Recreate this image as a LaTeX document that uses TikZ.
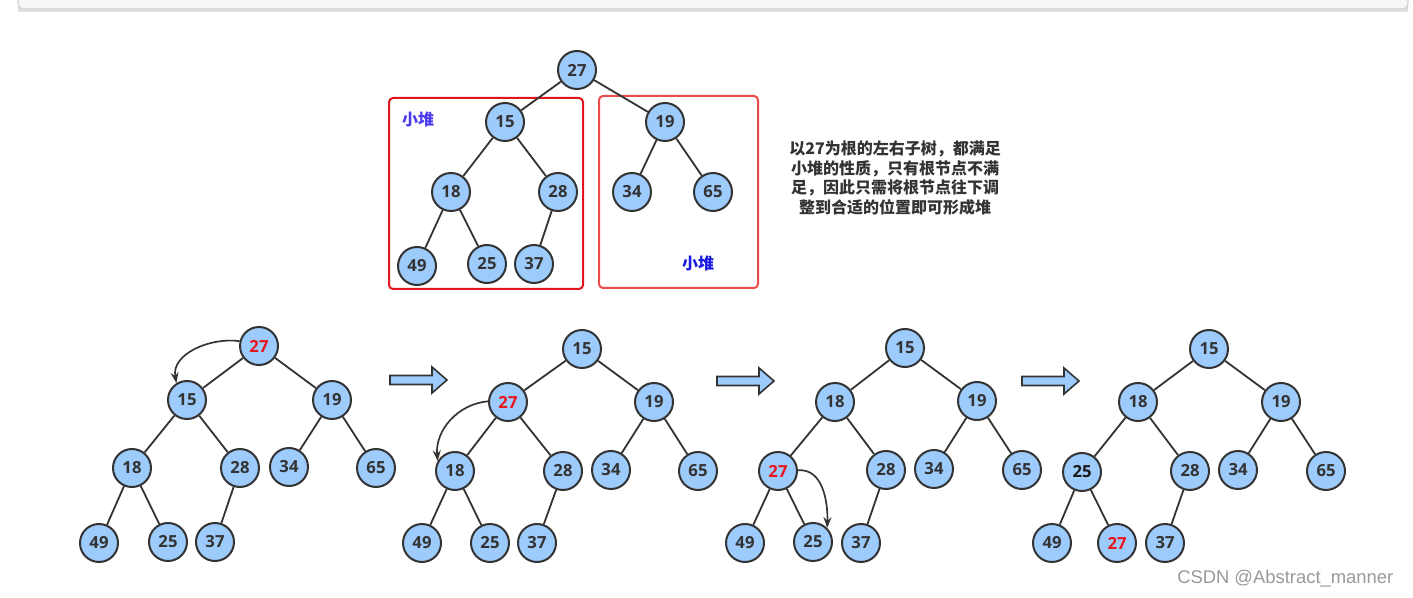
\documentclass[tikz,border=0pt]{standalone}
\usepackage{fontspec}
\setmainfont{Open Sans}
\setsansfont{Liberation Sans}
\newfontfamily\cjk{Noto Sans CJK SC}
\usetikzlibrary{arrows.meta}
\definecolor{nodefill}{HTML}{9DCBFB}
\definecolor{edgec}{HTML}{333333}
\definecolor{redtxt}{HTML}{E8141E}
\definecolor{boxred}{HTML}{E0161E}
\definecolor{boxredb}{HTML}{EB4B4B}
\definecolor{heapblue}{HTML}{4B3BF0}
\definecolor{heapblueb}{HTML}{1A1AE0}
\begin{document}
\begin{tikzpicture}[x=0.75pt,y=-0.75pt,
  hn/.style={circle,draw=edgec,line width=1.5pt,fill=nodefill,minimum size=28.5pt,inner sep=0pt,
    font=\fontsize{12.5pt}{14pt}\selectfont\bfseries,text=edgec},
  hot/.style={hn,text=redtxt},
  tl/.style={draw=edgec,line width=1.35pt},
  swaparrow/.style={draw=edgec,line width=1.25pt,-{Stealth[length=8pt,width=6pt]}},
  blockarrow/.style={draw=edgec,line width=1.2pt,fill=nodefill},
  heaplabel/.style={font=\cjk\fontsize{12pt}{14pt}\selectfont\bfseries}
]
\useasboundingbox (0,0) rectangle (1413,598);
% top gray frame
\fill[black!12] (18,-10) rectangle (1408,12);
\filldraw[fill=black!3,draw=black!18,line width=0.8pt,rounded corners=4pt] (18,-10) rectangle (1408,9);

% ===== top tree =====
\draw[boxred,line width=1.5pt,rounded corners=3pt] (389,98) rectangle (583,289);
\draw[boxredb,line width=1.5pt,rounded corners=3pt] (599,96) rectangle (758,288);
\node[heaplabel,text=heapblue] (lblL) at (418,119) {小堆};
\node[heaplabel,text=heapblueb] (lblR) at (698,263) {小堆};

\node[hn] (t27) at (577,70) {27};
\node[hn] (t15) at (505,122) {15};
\node[hn] (t19) at (665,122) {19};
\node[hn] (t18) at (451,192) {18};
\node[hn] (t28) at (558,192) {28};
\node[hn] (t34) at (632,192) {34};
\node[hn] (t65) at (713,192) {65};
\node[hn] (t49) at (417,266) {49};
\node[hn] (t25) at (487,264) {25};
\node[hn] (t37) at (534,264) {37};
\draw[tl] (t27)--(t15) (t27)--(t19) (t15)--(t18) (t15)--(t28) (t19)--(t34) (t19)--(t65)
  (t18)--(t49) (t18)--(t25) (t28)--(t37);

\node[font=\cjk\fontsize{12pt}{14.8pt}\selectfont\bfseries,text=edgec,align=center] (note) at (895,178)
  {以27为根的左右子树，都满足\\小堆的性质，只有根节点不满\\足，因此只需将根节点往下调\\整到合适的位置即可形成堆};

% ===== bottom tree 1 =====
\node[hot] (a27) at (259,346) {27};
\node[hn] (a15) at (187,400) {15};
\node[hn] (a19) at (332,400) {19};
\node[hn] (a18) at (132,468) {18};
\node[hn] (a28) at (240,468) {28};
\node[hn] (a34) at (289,467) {34};
\node[hn] (a65) at (376,468) {65};
\node[hn] (a49) at (99,543) {49};
\node[hn] (a25) at (168,542) {25};
\node[hn] (a37) at (215,542) {37};
\draw[tl] (a27)--(a15) (a27)--(a19) (a15)--(a18) (a15)--(a28) (a19)--(a34) (a19)--(a65)
  (a18)--(a49) (a18)--(a25) (a28)--(a37);
\draw[swaparrow] (a27.166) to[out=172,in=100] (a15.122);

% ===== bottom tree 2 =====
\node[hn] (b15) at (582,349) {15};
\node[hot] (b27) at (508,402) {27};
\node[hn] (b19) at (654,402) {19};
\node[hn] (b18) at (455,471) {18};
\node[hn] (b28) at (563,471) {28};
\node[hn] (b34) at (611,470) {34};
\node[hn] (b65) at (698,471) {65};
\node[hn] (b49) at (422,543) {49};
\node[hn] (b25) at (490,543) {25};
\node[hn] (b37) at (537,543) {37};
\draw[tl] (b15)--(b27) (b15)--(b19) (b27)--(b18) (b27)--(b28) (b19)--(b34) (b19)--(b65)
  (b18)--(b49) (b18)--(b25) (b28)--(b37);
\draw[swaparrow] (b27.178) to[out=185,in=95] (b18.150);

% ===== bottom tree 3 =====
\node[hn] (c15) at (905,348) {15};
\node[hn] (c18) at (835,402) {18};
\node[hn] (c19) at (977,401) {19};
\node[hot] (c27) at (778,471) {27};
\node[hn] (c28) at (886,470) {28};
\node[hn] (c34) at (934,469) {34};
\node[hn] (c65) at (1022,470) {65};
\node[hn] (c49) at (745,543) {49};
\node[hn] (c25) at (813,542) {25};
\node[hn] (c37) at (861,543) {37};
\draw[tl] (c15)--(c18) (c15)--(c19) (c18)--(c27) (c18)--(c28) (c19)--(c34) (c19)--(c65)
  (c27)--(c49) (c27)--(c25) (c28)--(c37);
\draw[swaparrow] (c27.2) to[out=5,in=88] (c25.45);

% ===== bottom tree 4 =====
\node[hn] (d15) at (1209,349) {15};
\node[hn] (d18) at (1138,402) {18};
\node[hn] (d19) at (1281,402) {19};
\node[hn,text=black!90] (d25) at (1082,472) {25};
\node[hn] (d28) at (1190,471) {28};
\node[hn] (d34) at (1238,470) {34};
\node[hn] (d65) at (1326,471) {65};
\node[hn] (d49) at (1052,543) {49};
\node[hot] (d27) at (1117,543) {27};
\node[hn] (d37) at (1165,543) {37};
\draw[tl] (d15)--(d18) (d15)--(d19) (d18)--(d25) (d18)--(d28) (d19)--(d34) (d19)--(d65)
  (d25)--(d49) (d25)--(d27) (d28)--(d37);

% ===== block arrows =====
\foreach \xa/\yc in {390/380, 717/381, 1022/381}{
  \draw[blockarrow] (\xa,\yc-4.5) -- (\xa+42,\yc-4.5) -- (\xa+42,\yc-13) -- (\xa+57,\yc)
    -- (\xa+42,\yc+13) -- (\xa+42,\yc+4.5) -- (\xa,\yc+4.5) -- cycle;
}

\node[font=\sffamily\fontsize{13.8pt}{15pt}\selectfont,text=black!40,anchor=east] (wm) at (1398,579) {CSDN @Abstract\_manner};
\end{tikzpicture}
\end{document}
